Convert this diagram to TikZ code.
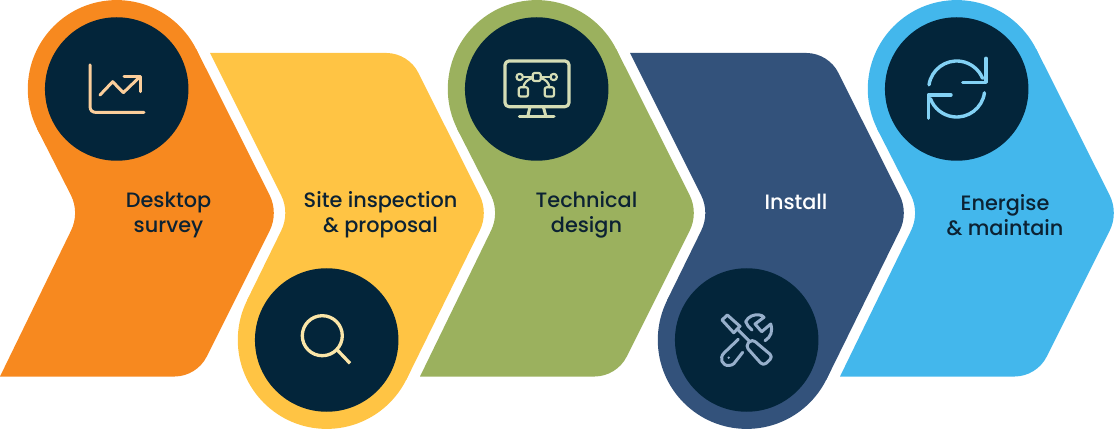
\documentclass[tikz,border=0pt]{standalone}
\usepackage{fontspec}
\setmainfont{Poppins}[UprightFont=* Medium]
\definecolor{cOrange}{HTML}{F7891F}
\definecolor{cYellow}{HTML}{FFC444}
\definecolor{cGreen}{HTML}{9BB15E}
\definecolor{cNavy}{HTML}{33527B}
\definecolor{cBlue}{HTML}{43B7EC}
\definecolor{cDark}{HTML}{03253A}
\definecolor{cText}{HTML}{0C2233}
\definecolor{iOrange}{HTML}{FBCE9B}
\definecolor{iYellow}{HTML}{FBE6A8}
\definecolor{iGreen}{HTML}{D5DDB5}
\definecolor{iNavy}{HTML}{97AFCB}
\definecolor{iBlue}{HTML}{83D2F5}
\newcommand{\topstage}[2]{%
  \begin{scope}[shift={(#1,0)}]
    \fill[#2] (116.7,89) circle (88.9);
    \fill[#2] (196.3,49.2) -- (269.6,195.1) .. controls (275.2,206.4) and (275.2,219.6) .. (269.6,230.9)
      -- (206.6,356.8) .. controls (200.7,368.6) and (187.95,376.5) .. (174.75,376.5)
      -- (0,376.5) -- (70.9,230.9) .. controls (76.5,219.6) and (76.5,206.4) .. (70.9,195.1)
      -- (37.1,128.8) -- cycle;
  \end{scope}}
\newcommand{\lowstage}[2]{%
  \begin{scope}[shift={(#1,0)}]
    \fill[#2] (326.7,340) circle (88.9);
    \fill[#2] (210,53) -- (386.5,53) .. controls (399.7,53) and (412.4,60.9) .. (418.3,72.7)
      -- (479.6,195.1) .. controls (485.2,206.4) and (485.2,219.6) .. (479.6,230.9)
      -- (406.3,379.8) -- (247.1,300.2) -- (281.1,230.9) .. controls (286.7,219.6) and (286.7,206.4) .. (281.1,195.1)
      -- cycle;
  \end{scope}}
\tikzset{
  x=1pt,y=-1pt,
  disc/.style={circle,inner sep=0pt,minimum size=143.5pt,fill=cDark},
  stagetext/.style={font=\fontsize{20.8}{25}\selectfont,align=center,text=cText,inner sep=0pt},
  icon/.style={line width=3pt,line cap=round,line join=round,draw=#1},
  thin icon/.style={line width=2.2pt,line cap=round,line join=round,draw=#1}
}
\begin{document}
\begin{tikzpicture}
\useasboundingbox (0,0) rectangle (1114,430);
\topstage{0}{cOrange}
\lowstage{0}{cYellow}
\topstage{420}{cGreen}
\lowstage{420}{cNavy}
\topstage{840}{cBlue}
% discs
\node[disc] (d1) at (116.7,89) {};
\node[disc] (d2) at (326.7,340) {};
\node[disc] (d3) at (536.7,89) {};
\node[disc] (d4) at (746.7,340) {};
\node[disc] (d5) at (956.7,89) {};
% labels
\node[stagetext] (t1) at (168.5,215) {Desktop\\survey};
\node[stagetext] (t2) at (380.5,215) {Site inspection\\\& proposal};
\node[stagetext] (t3) at (586.5,215) {Technical\\design};
\node[stagetext,text=white] (t4) at (796,202) {Install};
\node[stagetext] (t5) at (1005,215) {Energise\\\& maintain};
% chart icon
\draw[icon=iOrange] (90,65) -- (90,106) .. controls (90,110.5) and (92,112.5) .. (97,112.5) -- (144,112.5);
\draw[icon=iOrange] (100,95) -- (112.7,81.7) -- (123.3,92.7) -- (140,76.7);
\draw[icon=iOrange] (124,76.7) -- (140,76.7) -- (140,91.7);
% magnifier icon
\draw[icon=iYellow,line width=3.3pt] (322.3,335.7) circle (20);
\draw[icon=iYellow,line width=3.3pt,line cap=butt] (337.3,350) -- (350,363.3);
% monitor icon
\draw[icon=iGreen,line width=3.2pt,rounded corners=4pt] (505,61) rectangle (569,106.7);
\draw[icon=iGreen] (530,106.7) -- (527.7,116.7);
\draw[icon=iGreen] (543.3,106.7) -- (546,116.7);
\draw[icon=iGreen] (519.3,116.7) -- (554,116.7);
\draw[thin icon=iGreen] (519.7,77) circle (3.2);
\draw[thin icon=iGreen] (553.7,77) circle (3.2);
\draw[thin icon=iGreen,rounded corners=2pt] (532.7,73) rectangle (540.7,81);
\draw[thin icon=iGreen,rounded corners=2pt] (518.7,87.3) rectangle (528,96.6);
\draw[thin icon=iGreen,rounded corners=2pt] (544.7,87.3) rectangle (554,96.6);
\draw[thin icon=iGreen] (523,77) -- (532.7,77);
\draw[thin icon=iGreen] (540.7,77) -- (550.5,77);
\draw[thin icon=iGreen] (532.7,78) .. controls (527,79.5) and (524,83) .. (523.3,87.3);
\draw[thin icon=iGreen] (540.7,78) .. controls (546,79.5) and (549,83) .. (549.3,87.3);
% tools icon
\draw[icon=iNavy] (727.3,315) -- (722,320) -- (733.7,332.7) -- (740,326.3) -- cycle;
\draw[icon=iNavy] (738.3,330) -- (750,341.7);
\draw[icon=iNavy,rounded corners=4pt] (752,339) -- (745.5,346) -- (763.3,366) -- (773,356.7) -- cycle;
\draw[icon=iNavy] (738.3,339.3) -- (724,353) .. controls (719,358) and (722,366) .. (729,365.5) .. controls (731,365.5) and (733,364.5) .. (734,363.5) -- (742.7,352.3);
\fill[iNavy] (728.7,357.7) circle (1.3);
\draw[icon=iNavy] (752,330) .. controls (749,327) and (746.5,325) .. (745.7,321.7) .. controls (748,316.5) and (754,314) .. (759.5,315) .. controls (761,315) and (763,316) .. (764,317.3) -- (755,324) -- (761.7,331.7) -- (770.7,324) .. controls (773,331) and (771,337) .. (765,340.7);
% refresh icon
\draw[icon=iBlue,line width=3.4pt] (956.7,89) ++(188.5:28) arc[start angle=188.5,end angle=337.6,radius=28];
\draw[icon=iBlue,line width=3.4pt] (956.7,89) ++(7.7:28) arc[start angle=7.7,end angle=160,radius=28];
\draw[icon=iBlue,line width=3.4pt] (986,58.3) -- (986,82.3) -- (962.7,82.3);
\draw[icon=iBlue,line width=3.4pt] (928.3,118.3) -- (928.3,95) -- (951,95);
\end{tikzpicture}
\end{document}
